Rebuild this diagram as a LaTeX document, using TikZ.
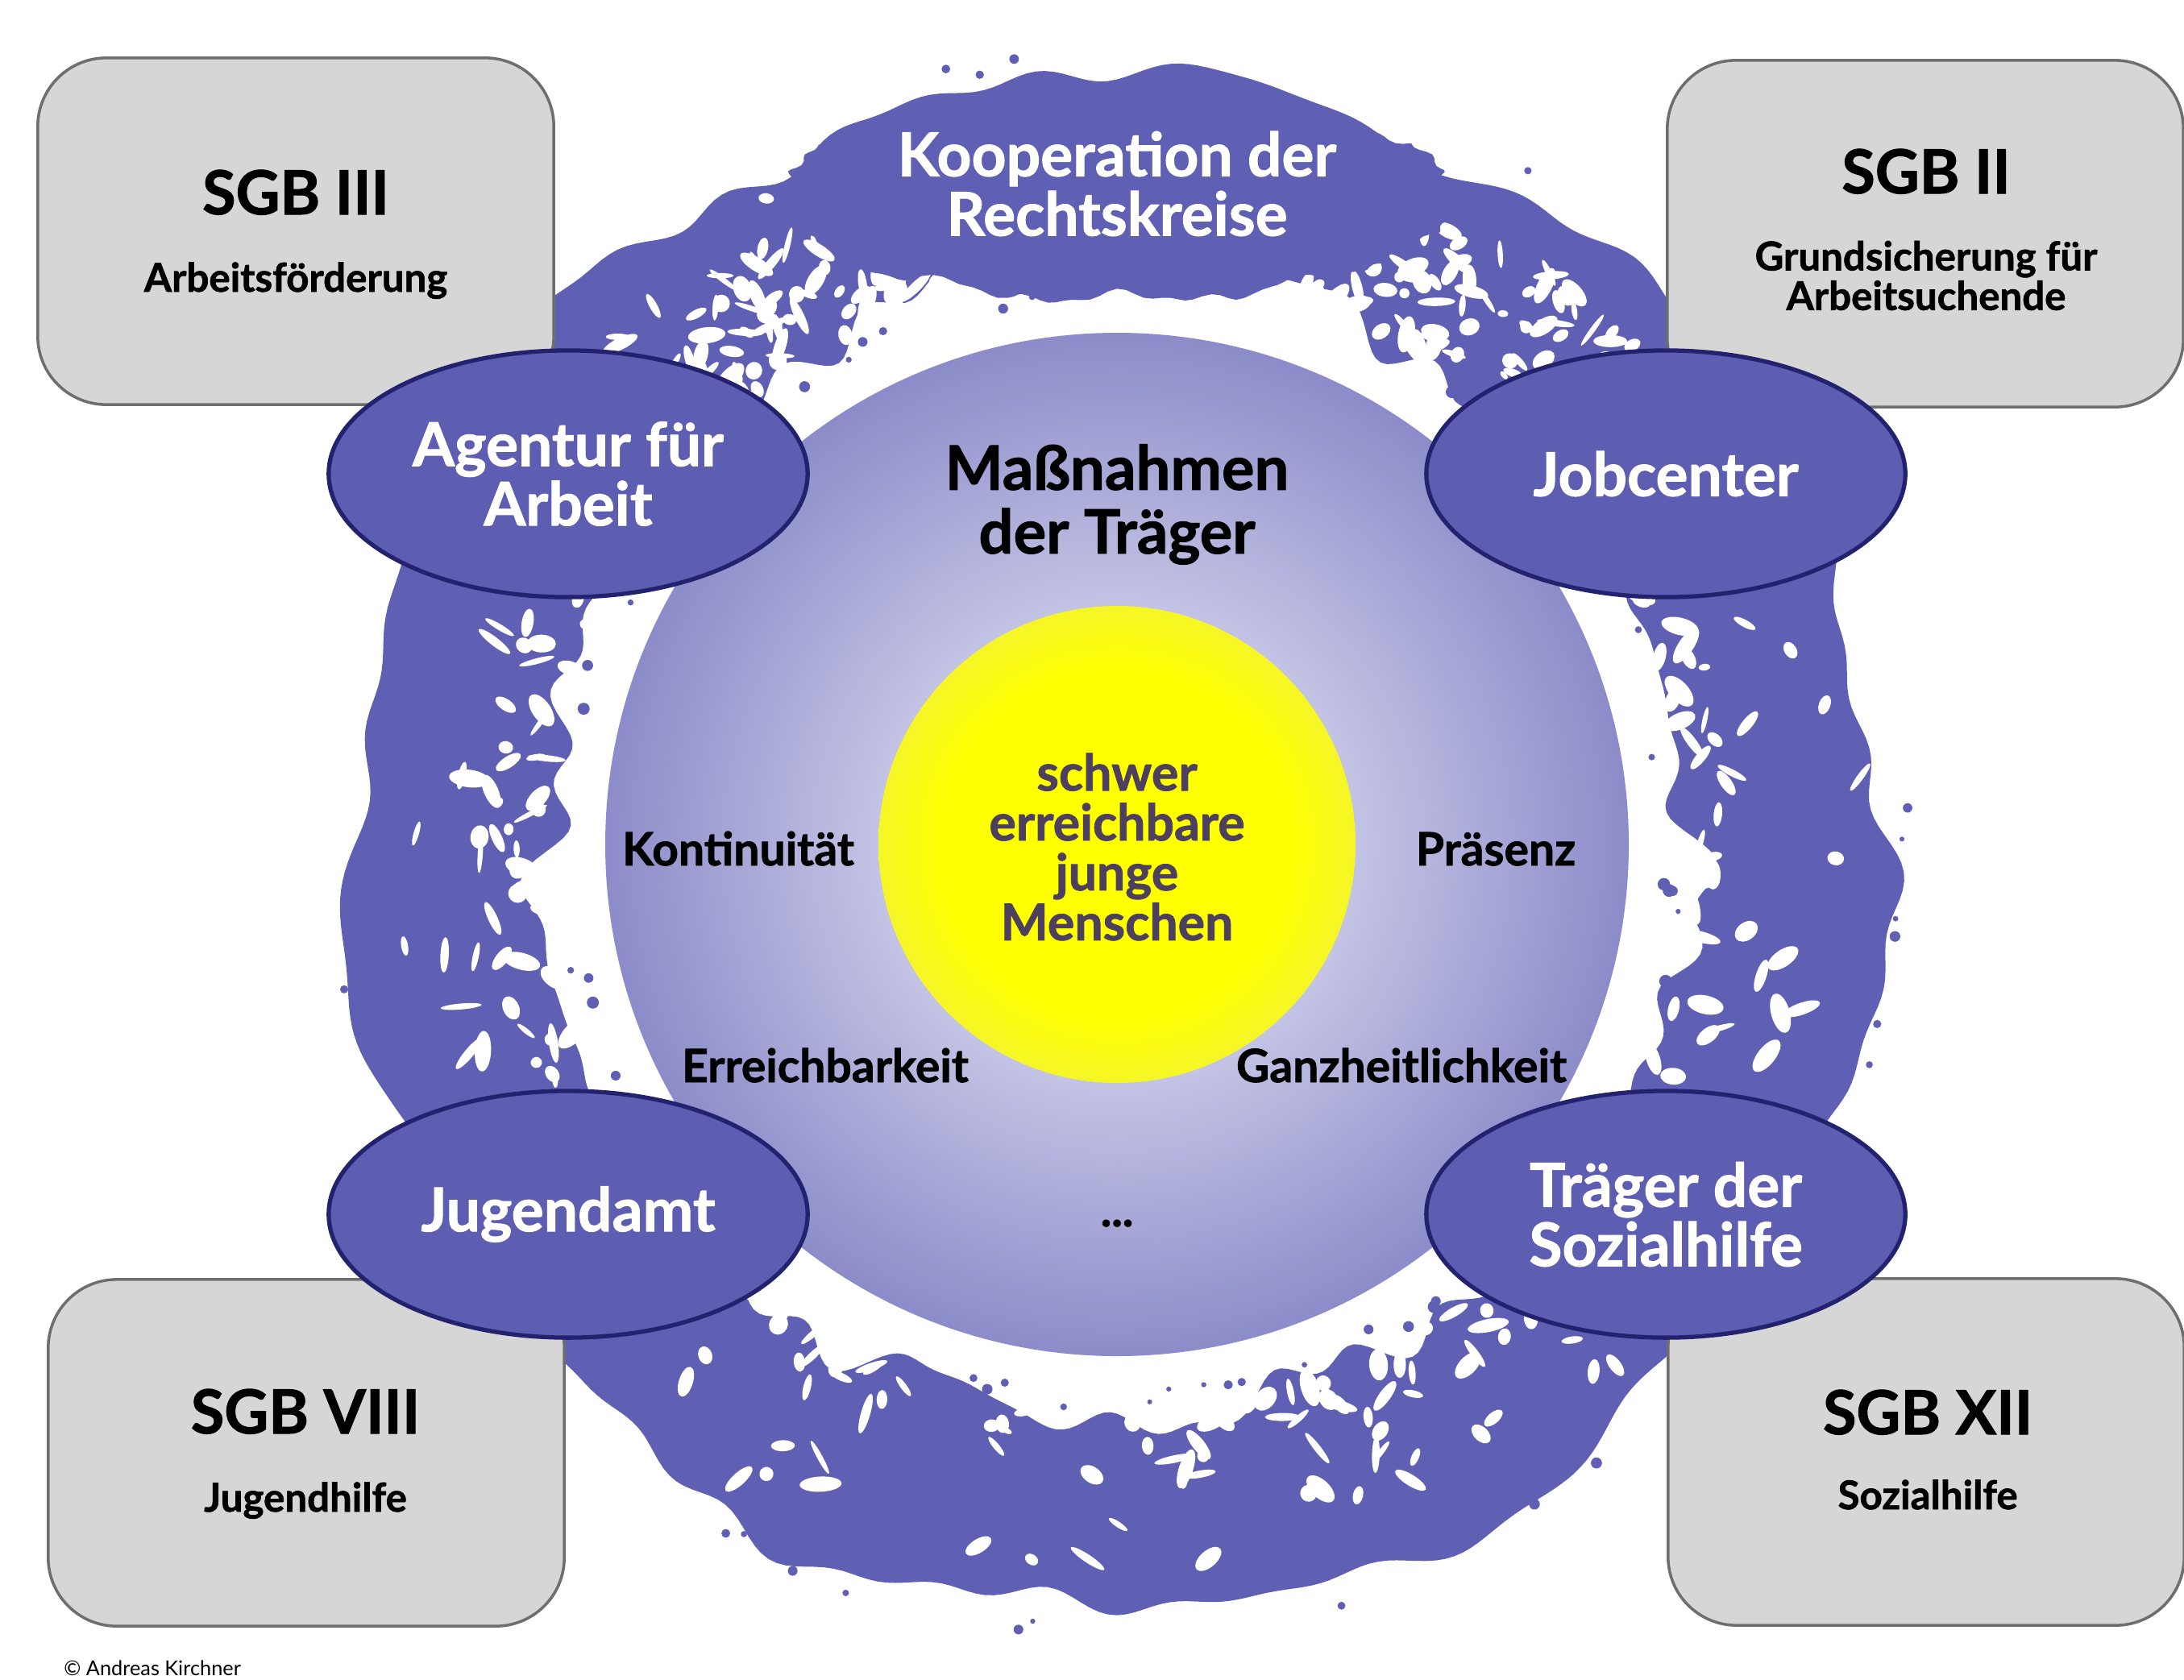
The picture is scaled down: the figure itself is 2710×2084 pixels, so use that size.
\documentclass[tikz,border=0pt]{standalone}
\usepackage{fontspec}
\setmainfont{Lato}[BoldFeatures={FakeBold=1.3}]
\usetikzlibrary{shapes.geometric}

\definecolor{ringc}{RGB}{95,95,180}
\definecolor{ovalc}{RGB}{93,93,178}
\definecolor{ovaldraw}{RGB}{34,34,110}
\definecolor{boxc}{RGB}{214,214,214}
\definecolor{boxdraw}{RGB}{110,110,110}
\definecolor{discin}{RGB}{198,198,230}
\definecolor{discout}{RGB}{140,140,202}
\definecolor{kernin}{RGB}{255,255,0}
\definecolor{kernout}{RGB}{246,246,40}
\definecolor{kerntext}{RGB}{76,64,94}

\def\sc{.01cm}
\def\ctr{(1386,1048)}
\def\headf{\fontsize{21.5}{24}\selectfont\bfseries}
\def\subf{\fontsize{14}{14}\selectfont\bfseries}
\def\ovalf{\fontsize{21.3}{21}\selectfont\bfseries}
\def\midf{\fontsize{21.6}{22.5}\selectfont\bfseries}
\def\tagf{\fontsize{16.2}{18}\selectfont\bfseries}
\def\kernf{\fontsize{17.8}{17.6}\selectfont\bfseries}

\pgfdeclareradialshading{discshade}{\pgfpoint{0bp}{0bp}}{color(0bp)=(discin); color(11bp)=(discin); color(25bp)=(discout); color(50bp)=(discout)}
\pgfdeclareradialshading{kernshade}{\pgfpoint{0bp}{0bp}}{color(0bp)=(kernin); color(18bp)=(kernin); color(25bp)=(kernout); color(50bp)=(kernout)}

\begin{document}
\begin{tikzpicture} [x=\sc, y=-\sc,
  sgbbox/.style={draw=boxdraw, line width=1pt, fill=boxc, rounded corners=.85cm,
    minimum width=6.4cm, minimum height=4.3cm},
  oval/.style={ellipse, draw=ovaldraw, line width=1.5pt, fill=ovalc, inner sep=0pt,
    minimum width=5.94cm, minimum height=3.06cm, align=center, text=white, font=\ovalf},
  tag/.style={anchor=base, font=\tagf}]
\useasboundingbox (0,0) rectangle (2710,2084);
\fill [white] (0,0) rectangle (2710,2084);

% frayed ring
\begin{scope} [shift={(1386,1048)}]
  \fill [ringc, even odd rule]
    plot [domain=0:360, samples=541] (\x:{952+14*sin(7*\x)+10*sin(13*\x+40)+6*sin(29*\x+10)+4*sin(41*\x)+3*sin(44*\x+20)}) -- cycle
    plot [domain=0:360, samples=541] (\x:{712+16*sin(9*\x+20)+12*sin(19*\x)+8*sin(37*\x+70)+7*sin(43*\x)+5*sin(31*\x+30)}) -- cycle;
  \pgfmathsetseed{2084}
  \foreach \i in {1,...,360} {
    \pgfmathsetmacro\ang{360*rnd}
    \pgfmathsetmacro\rad{712+230*rnd*rnd}
    \pgfmathsetmacro\rx{6+20*rnd}
    \pgfmathsetmacro\ry{3+9*rnd}
    \pgfmathsetmacro\rot{180*rnd}
    \fill [white] (\ang:\rad) circle [x radius=\rx, y radius=\ry, rotate=\rot];
  }
  \foreach \a in {225,290} {
    \foreach \i in {1,...,70} {
      \pgfmathsetmacro\ang{\a+30*rnd}
      \pgfmathsetmacro\rad{712+180*rnd}
      \pgfmathsetmacro\rx{6+18*rnd}
      \pgfmathsetmacro\ry{3+8*rnd}
      \pgfmathsetmacro\rot{180*rnd}
      \fill [white] (\ang:\rad) circle [x radius=\rx, y radius=\ry, rotate=\rot];
    }
  }
  \foreach \i in {1,...,40} {
    \pgfmathsetmacro\ang{360*rnd}
    \pgfmathsetmacro\rad{672+30*rnd}
    \pgfmathsetmacro\rr{3+5*rnd}
    \fill [ringc] (\ang:\rad) circle (\rr);
  }
  \foreach \i in {1,...,30} {
    \pgfmathsetmacro\ang{360*rnd}
    \pgfmathsetmacro\rad{968+22*rnd}
    \pgfmathsetmacro\rr{3+4*rnd}
    \fill [ringc] (\ang:\rad) circle (\rr);
  }
\end{scope}

% inner discs
\shade [shading=discshade] \ctr circle (635);
\shade [shading=kernshade] \ctr circle (296);

% top blob
\fill [ringc] plot [domain=0:360, samples=241]
  ({1386+(420+10*sin(9*\x)+6*sin(17*\x+30)+4*sin(41*\x))*cos(\x)}, {246+(125+6*sin(11*\x+15)+4*sin(23*\x)+3*sin(43*\x+10))*sin(\x)}) -- cycle;
\node (koop) at (1386,228) [align=center, text=white, font=\ovalf] {Kooperation der\\Rechtskreise};

% law boxes
\node (sgb3) [sgbbox] at (367,287) {};
\node (sgb3h) at (367,266) [anchor=base, font=\headf] {SGB III};
\node (sgb3s) at (367,362) [anchor=base, font=\subf] {Arbeitsförderung};

\node (sgb2) [sgbbox] at (2389,290) {};
\node (sgb2h) at (2390,240) [anchor=base, font=\headf] {SGB II};
\node (sgb2s) at (2390,342) [align=center, font=\subf] {Grundsicherung für\\Arbeitsuchende};

\node (sgb8) [sgbbox] at (380,1803) {};
\node (sgb8h) at (379,1779) [anchor=base, font=\headf] {SGB VIII};
\node (sgb8s) at (379,1876) [anchor=base, font=\subf] {Jugendhilfe};

\node (sgb12) [sgbbox] at (2390,1802) {};
\node (sgb12h) at (2392,1780) [anchor=base, font=\headf] {SGB XII};
\node (sgb12s) at (2392,1873) [anchor=base, font=\subf] {Sozialhilfe};

% agencies
\node (afa) [oval] at (705,588) {Agentur für\\Arbeit};
\node (jc) [oval] at (2067,588) {Jobcenter};
\node (ja) [oval] at (705,1507) {Jugendamt};
\node (tds) [oval] at (2067,1507) {Träger der\\Sozialhilfe};

% inside the disc
\node (mass) at (1386,626) [align=center, font=\midf] {Maßnahmen\\der Träger};
\node (kont) at (916,1074) [tag] {Kontinuität};
\node (praes) at (1856,1074) [tag] {Präsenz};
\node (erreich) at (1024,1343) [tag] {Erreichbarkeit};
\node (ganz) at (1739,1343) [tag] {Ganzheitlichkeit};
\node (more) at (1386,1522) [tag] {...};
\node (kern) at (1386,1051) [align=center, text=kerntext, font=\kernf] {schwer\\erreichbare\\junge\\Menschen};

\node (copy) at (67,2079) [anchor=base west, font=\fontsize{7.2}{9}\selectfont] {© Andreas Kirchner};
\end{tikzpicture}
\end{document}
